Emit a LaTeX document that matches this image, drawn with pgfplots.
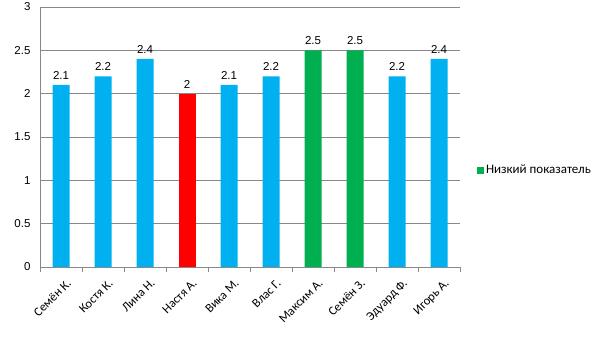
\documentclass[border=0pt]{standalone}
\usepackage{pgfplots}
\pgfplotsset{compat=1.18}
\usepackage{fontspec}
\setmainfont{Liberation Sans}
\newfontfamily\lab{Carlito}
\definecolor{cblue}{HTML}{00B0F0}
\definecolor{cred}{HTML}{FF0000}
\definecolor{cgreen}{HTML}{00B050}
\definecolor{cgrid}{HTML}{888888}
\begin{document}
\begin{tikzpicture}[x=1pt,y=1pt]
\useasboundingbox (0,0) rectangle (605,340);
\begin{axis}[
  at={(40pt,73pt)}, anchor=south west,
  scale only axis, width=420pt, height=260pt,
  xmin=-0.5, xmax=9.5, ymin=0, ymax=3,
  axis x line*=bottom, axis y line*=left,
  axis line style={cgrid, line width=0.8pt, -},
  xtick={0,...,9},
  xticklabels={Семён К.,Костя К.,Лина Н.,Настя А.,Вика М.,Влас Г.,Максим А.,Семён З.,Эдуард Ф.,Игорь А.},
  minor xtick={-0.5,0.5,...,9.5},
  tick align=outside, major tick length=0pt, minor tick length=5pt,
  minor tick style={cgrid, line width=0.8pt},
  xticklabel style={rotate=45, anchor=north east, font=\lab\fontsize{12.5}{14}\selectfont, xshift=-1pt, yshift=-8pt},
  ytick={0,0.5,...,3},
  yticklabels={0,0.5,1,1.5,2,2.5,3},
  yticklabel style={font=\fontsize{11.5}{13}\selectfont, xshift=-6pt},
  ymajorgrids, grid style={cgrid, line width=0.8pt},
  ybar, bar width=17pt, bar shift=0pt,
  nodes near coords,
  nodes near coords style={font=\fontsize{11.5}{13}\selectfont, anchor=south, yshift=2pt, /pgf/number format/assume math mode=true},
  legend style={at={(1.04,0.373)}, anchor=west, draw=none, font=\lab\fontsize{13}{15}\selectfont, inner sep=0pt},
  legend image code/.code={\fill[#1] (0pt,-3.5pt) rectangle (7pt,3.5pt);},
]
\addplot[fill=cblue, draw=none, forget plot] coordinates {(0,2.1) (1,2.2) (2,2.4) (4,2.1) (5,2.2) (8,2.2) (9,2.4)};
\addplot[fill=cred, draw=none, forget plot] coordinates {(3,2)};
\addplot[fill=cgreen, draw=none] coordinates {(6,2.5) (7,2.5)};
\addlegendentry{Низкий показатель}
\end{axis}
\end{tikzpicture}
\end{document}
